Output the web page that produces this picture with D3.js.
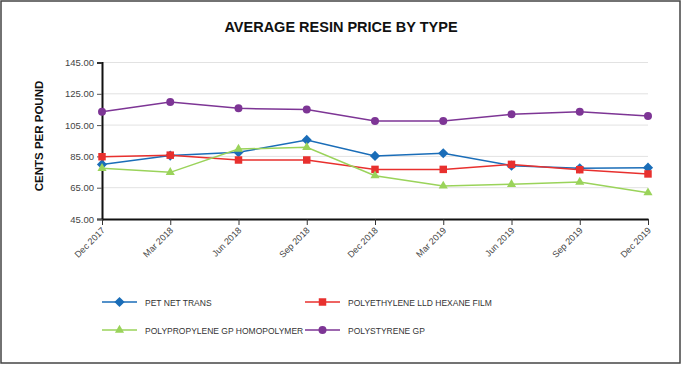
<!DOCTYPE html>
<html>
<head>
<meta charset="utf-8">
<script src="https://cdn.jsdelivr.net/npm/d3@7"></script>
<style>
  body { margin: 0; background: #fff; }
  svg text { font-family: "Liberation Sans", Arial, sans-serif; }
</style>
</head>
<body>
<script>
// chart data
var periods = ["Dec 2017", "Mar 2018", "Jun 2018", "Sep 2018", "Dec 2018",
               "Mar 2019", "Jun 2019", "Sep 2019", "Dec 2019"];
var seriesNames = ["PET NET TRANS", "POLYETHYLENE LLD HEXANE FILM",
                   "POLYPROPYLENE GP HOMOPOLYMER", "POLYSTYRENE GP"];
var petValues = [79.9, 85.5, 87.6, 95.5, 85.3, 87.0, 79.1, 77.4, 77.8];
var peValues = [84.8, 85.8, 82.7, 82.7, 76.7, 76.7, 79.9, 76.5, 73.8];
var ppValues = [77.4, 74.8, 89.7, 90.8, 72.7, 66.1, 67.2, 68.6, 61.8];
var psValues = [113.6, 119.8, 115.7, 114.9, 107.6, 107.6, 111.9, 113.6, 110.8];
var yTicks = [45, 65, 85, 105, 125, 145];

var width = 682, height = 365;
var colors = ["#1a6db8", "#e8302e", "#9ad35a", "#7d3595"];
// diamond is drawn as a square turned 45 degrees
var symbols = [d3.symbolSquare, d3.symbolSquare, d3.symbolTriangle, d3.symbolCircle];
var symSizes = [52, 56, 36, 50];
var symRot = [45, 0, 0, 0];

var svg = d3.select("body").append("svg")
    .attr("width", width)
    .attr("height", height);

// frame
svg.append("rect")
    .attr("x", 1).attr("y", 1)
    .attr("width", width - 3).attr("height", height - 3)
    .attr("fill", "#fff")
    .attr("stroke", "#444")
    .attr("stroke-width", 1.5);

svg.append("text")
    .attr("x", 341).attr("y", 32)
    .attr("text-anchor", "middle")
    .attr("font-size", 14.5)
    .attr("font-weight", "bold")
    .attr("fill", "#111")
    .text("AVERAGE RESIN PRICE BY TYPE");

var x = d3.scalePoint().domain(periods).range([102, 648]);
var y = d3.scaleLinear().domain([45, 145]).range([219, 62.5]);

// grid
svg.append("g").selectAll("line")
    .data(yTicks.slice(1))
    .enter().append("line")
    .attr("x1", 102).attr("x2", 648)
    .attr("y1", function(d) { return y(d); })
    .attr("y2", function(d) { return y(d); })
    .attr("stroke", "#e2e2e2")
    .attr("stroke-width", 1);

// y axis
var yAxis = svg.append("g")
    .attr("transform", "translate(102,0)")
    .call(d3.axisLeft(y).tickValues(yTicks).tickFormat(d3.format(".2f")).tickSize(5).tickPadding(3));
yAxis.select(".domain").attr("stroke", "#111").attr("stroke-width", 2);
yAxis.selectAll(".tick line").attr("stroke", "#555");
yAxis.selectAll(".tick text").attr("font-size", 9.5).attr("fill", "#444")
    .style("font-family", "Liberation Sans, Arial, sans-serif");

// x axis
var xAxis = svg.append("g")
    .attr("transform", "translate(0,219)")
    .call(d3.axisBottom(x).tickSize(6).tickSizeOuter(0));
xAxis.select(".domain").attr("stroke", "#111").attr("stroke-width", 2);
xAxis.selectAll(".tick line").attr("stroke", "#333");
xAxis.selectAll(".tick text")
    .attr("font-size", 9)
    .attr("fill", "#444")
    .style("font-family", "Liberation Sans, Arial, sans-serif")
    .attr("text-anchor", "end")
    .attr("dy", null)
    .attr("y", 0)
    .attr("transform", "translate(3,12) rotate(-45)");

svg.append("text")
    .attr("transform", "translate(43,136) rotate(-90)")
    .attr("text-anchor", "middle")
    .attr("font-size", 11.5)
    .attr("font-weight", "bold")
    .attr("fill", "#111")
    .text("CENTS PER POUND");

var allSeries = [petValues, peValues, ppValues, psValues];
var line = d3.line()
    .x(function(d, i) { return x(periods[i]); })
    .y(function(d) { return y(d); });

allSeries.forEach(function(vals, k) {
  var g = svg.append("g");
  g.append("path")
      .datum(vals)
      .attr("d", line)
      .attr("fill", "none")
      .attr("stroke", colors[k])
      .attr("stroke-width", 1.5);
  g.selectAll("path.pt")
      .data(vals)
      .enter().append("path")
      .attr("class", "pt")
      .attr("d", d3.symbol().type(symbols[k]).size(symSizes[k]))
      .attr("transform", function(d, i) {
        return "translate(" + x(periods[i]) + "," + y(d) + ") rotate(" + symRot[k] + ")";
      })
      .attr("fill", colors[k]);
});

// legend
var legendPos = [[102, 302], [305, 302], [102, 330], [305, 330]];
seriesNames.forEach(function(name, k) {
  var p = legendPos[k];
  var lg = svg.append("g").attr("transform", "translate(" + p[0] + "," + p[1] + ")");
  lg.append("line").attr("x1", 0).attr("x2", 35)
      .attr("stroke", colors[k]).attr("stroke-width", 1.5);
  lg.append("path")
      .attr("d", d3.symbol().type(symbols[k]).size(symSizes[k]))
      .attr("transform", "translate(17.5,0) rotate(" + symRot[k] + ")")
      .attr("fill", colors[k]);
  lg.append("text").attr("x", 43).attr("y", 3.5)
      .attr("font-size", 8.5)
      .attr("fill", "#333")
      .text(name);
});
</script>
</body>
</html>
